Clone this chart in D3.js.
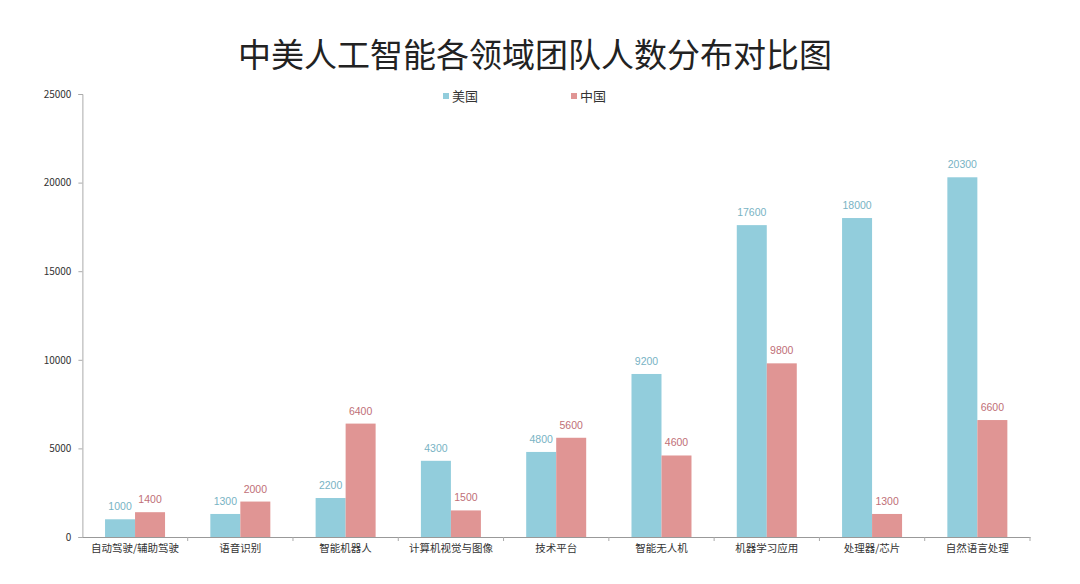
<!DOCTYPE html>
<html><head><meta charset="utf-8">
<script src="https://cdn.jsdelivr.net/npm/d3@7"></script>
<style>body{margin:0;background:#fff;}svg{display:block;}</style>
</head><body>
<svg id="c" width="1080" height="584"></svg>
<script>
const categories = ["自动驾驶/辅助驾驶","语音识别","智能机器人","计算机视觉与图像","技术平台","智能无人机","机器学习应用","处理器/芯片","自然语言处理"];
const usValues = [1000,1300,2200,4300,4800,9200,17600,18000,20300];
const cnValues = [1400,2000,6400,1500,5600,4600,9800,1300,6600];
const seriesNames = ["美国","中国"];
const yTicks = [0,5000,10000,15000,20000,25000];

const font = "'Noto Sans CJK SC','Noto Sans',sans-serif";
const colors = ["#92cddc","#e09594"];
const labelColors = ["#78b3c4","#c06f77"];
const svg = d3.select("#c");
const x0 = 82.4, x1 = 1030, y0 = 537, y1 = 94;
const x = d3.scaleBand().domain(categories).range([x0,x1]).paddingInner(0).paddingOuter(0);
const y = d3.scaleLinear().domain([0,25000]).range([y0,y1]);

svg.append("text").attr("x",535).attr("y",67).attr("text-anchor","middle")
  .attr("font-family",font).attr("font-size",33).attr("fill","#222").text("中美人工智能各领域团队人数分布对比图");

// y axis
const ya = svg.append("g").attr("transform",`translate(${x0},0)`)
  .call(d3.axisLeft(y).tickValues(yTicks).tickSize(4).tickPadding(7).tickFormat(d=>d));
ya.select(".domain").attr("stroke","#aaa");
ya.selectAll(".tick line").attr("stroke","#aaa");
ya.selectAll("text").attr("font-family",font).attr("font-size",10).attr("fill","#333");

// x axis
const xa = svg.append("g").attr("transform",`translate(0,${y0})`)
  .call(d3.axisBottom(x).tickSize(0).tickPadding(8));
xa.select(".domain").attr("stroke","#999").attr("stroke-width",1.2);
xa.selectAll("text").attr("font-family",font).attr("font-size",10.5).attr("fill","#333");
// boundary ticks
svg.append("g").selectAll("line").data(categories).join("line")
  .attr("x1",d=>x(d)+x.bandwidth()).attr("x2",d=>x(d)+x.bandwidth())
  .attr("y1",y0).attr("y2",y0+4).attr("stroke","#aaa");

const data = categories.map((c,i)=>({c, v:[usValues[i],cnValues[i]]}));
const bw = 30;
data.forEach(d=>{
  const cx = x(d.c)+x.bandwidth()/2;
  d.v.forEach((v,s)=>{
    const bx = s===0 ? cx-bw : cx;
    svg.append("rect").attr("x",bx).attr("y",y(v)).attr("width",bw).attr("height",y0-y(v)).attr("fill",colors[s]);
    svg.append("text").attr("x",bx+bw/2).attr("y",y(v)-9).attr("text-anchor","middle")
      .attr("font-family","'Liberation Sans',sans-serif").attr("font-size",10.5).attr("fill",labelColors[s]).text(v);
  });
});

// legend
const leg = [[443,seriesNames[0]],[571,seriesNames[1]]];
leg.forEach((l,i)=>{
  svg.append("rect").attr("x",l[0]).attr("y",93).attr("width",6).attr("height",6).attr("fill",colors[i]);
  svg.append("text").attr("x",l[0]+9).attr("y",101).attr("font-family",font).attr("font-size",13).attr("fill","#333").text(l[1]);
});
</script>
</body></html>
